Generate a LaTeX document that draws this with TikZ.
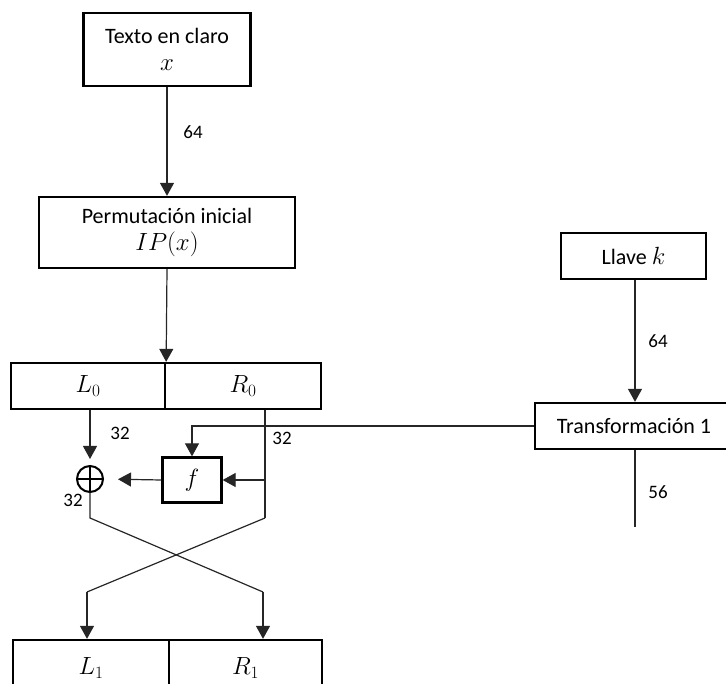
\documentclass[tikz,border=0pt]{standalone}
\usepackage{fontspec}
\setmainfont{Carlito}
\usetikzlibrary{arrows.meta,calc}
\newcommand{\mymath}[1]{{\fontsize{25}{27}\selectfont$#1$}}
\begin{document}
\begin{tikzpicture}[x=1pt,y=-1pt,
  box/.style={draw=black,line width=2.3pt,inner sep=0pt,font=\fontsize{22}{26}\selectfont,align=center},
  conn/.style={draw=black!85,line width=1.2pt},
  arr/.style={conn,-{Triangle[width=14pt,length=13pt]}},
  lbl/.style={font=\fontsize{19}{22}\selectfont,inner sep=0pt}]
\useasboundingbox (0,0) rectangle (726,684);
\begin{scope}
\clip (0,0) rectangle (726,684);
\node[box,minimum width=167pt,minimum height=73pt] (texto) at (167,49.5) {Texto en claro\\[1pt]\mymath{x}};
\node[box,minimum width=256pt,minimum height=71pt] (perm) at (167,232.5) {Permutación inicial\\[1pt]\mymath{IP(x)}};
\node[box,minimum width=154pt,minimum height=46pt] (L0) at (88,386) {\mymath{L_0}};
\node[box,minimum width=156pt,minimum height=46pt] (R0) at (243,386) {\mymath{R_0}};
\node[box,minimum width=156pt,minimum height=60pt] (L1) at (91,670) {};
\node[box,minimum width=153pt,minimum height=60pt] (R1) at (245.5,670) {};
\node at (91,668) {\mymath{L_1}};
\node at (245.5,668) {\mymath{R_1}};
\node[box,minimum width=145pt,minimum height=46pt] (llave) at (633.5,256) {Llave \mymath{k}};
\node[box,minimum width=198pt,minimum height=46pt] (trans) at (634,426) {Transformación 1};
\node[box,minimum width=59pt,minimum height=45pt] (f) at (192,480) {\mymath{f}};
\node[draw=black,circle,line width=2pt,minimum size=26pt,inner sep=0pt] (xor) at (90,479) {};
\draw[line width=2pt] (xor.north) -- (xor.south) (xor.west) -- (xor.east);
\end{scope}

\coordinate (rdown) at (265,518);
\coordinate (xdown) at (90,518);
\coordinate (tdown) at (635,527);
\coordinate (cl) at (87,592);
\coordinate (cr) at (263,592);

\draw[arr] (texto.south) -- (perm.north);
\draw[arr] (perm.south) -- (L0.north east);
\draw[arr,shorten >=6pt] (L0.south -| xor) -- (xor.north);
\draw[conn] (R0.south -| rdown) -- (rdown);
\draw[arr] (rdown |- f.east) -- (f.east);
\draw[arr,shorten >=14pt] (f.west) -- (xor.east);
\draw[arr] (trans.west) -- (f.north |- trans.west) -- (f.north);
\draw[conn] (xor.south) -- (xdown) -- (cr);
\draw[arr] (cr) -- (cr |- R1.north);
\draw[conn] (rdown) -- (cl);
\draw[arr] (cl) -- (cl |- L1.north);
\draw[arr] (llave.south -| tdown) -- (trans.north -| tdown);
\draw[conn] (trans.south -| tdown) -- (tdown);

\node[lbl] at (193,132) {64};
\node[lbl] at (658,341) {64};
\node[lbl] at (658,492) {56};
\node[lbl] at (120,433) {32};
\node[lbl] at (282,438) {32};
\node[lbl] at (73,500) {32};
\end{tikzpicture}
\end{document}
